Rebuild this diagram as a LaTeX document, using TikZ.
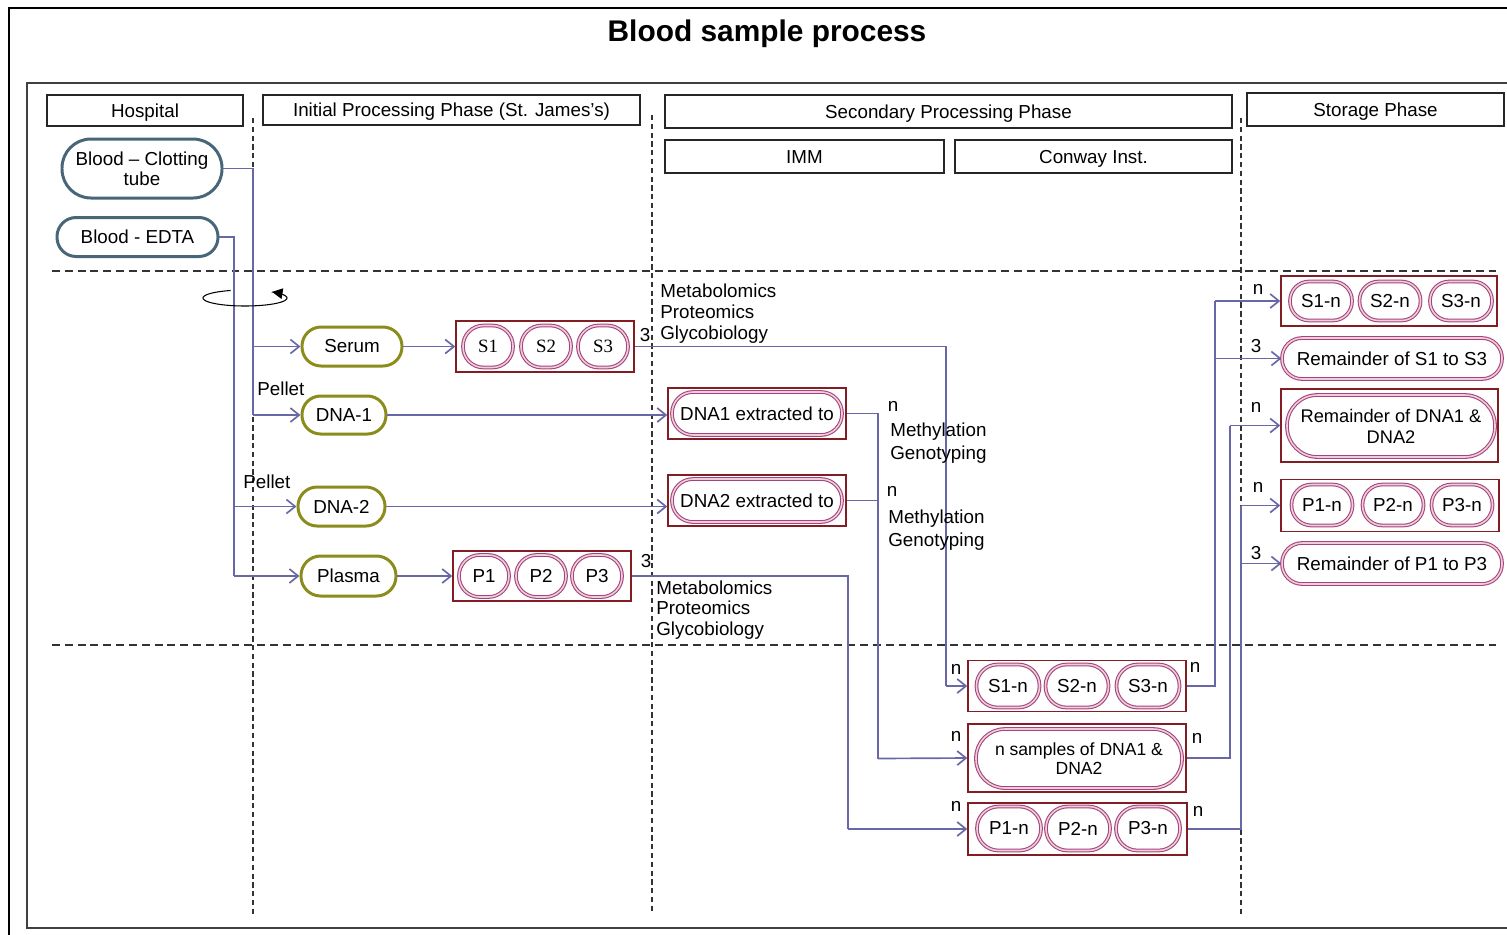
\documentclass[tikz,border=0pt]{standalone}
\usepackage{fontspec}
\setmainfont{Liberation Sans}
\newfontfamily\serifS{Liberation Serif}
\usetikzlibrary{arrows.meta,calc}
\definecolor{connc}{RGB}{104,104,168}
\definecolor{olivec}{RGB}{140,140,28}
\definecolor{bluec}{RGB}{72,102,120}
\definecolor{redbox}{RGB}{130,30,35}
\definecolor{pinkc}{RGB}{165,68,118}
\definecolor{pinkl}{RGB}{238,205,224}
\begin{document}
\begin{tikzpicture}[x=0.02cm,y=-0.02cm, font=\fontsize{10.7}{11.5}\selectfont,
  bw/.style 2 args={rectangle, minimum width=#1*0.02cm, minimum height=#2*0.02cm, inner sep=0pt},
  pw/.style 2 args={rectangle, minimum width=#1*0.02cm, minimum height=#2*0.02cm, rounded corners=#2*0.0098cm, inner sep=0pt, align=center},
  hdr/.style={draw=black!85, line width=0.8pt, text height=7.6pt, text depth=0pt},
  bluepill/.style={draw=bluec, line width=1.7pt},
  olivepill/.style={draw=olivec, line width=1.7pt},
  tpill/.style={draw=pinkc, line width=0.6pt, double=pinkl, double distance=0.9pt},
  rbox/.style={draw=redbox, line width=0.8pt},
  conn/.style={draw=connc, line width=0.95pt, -{Straight Barb[length=5pt,width=8pt]}},
  cline/.style={draw=connc, line width=0.95pt},
  lbl/.style={inner sep=0pt, anchor=west},
  nl/.style={inner sep=0pt},
  hdash/.style={draw=black!80, line width=0.7pt, dash pattern=on 4.5pt off 2.8pt},
  vdash/.style={draw=black!80, line width=0.7pt, dash pattern=on 3pt off 2pt},
]
\useasboundingbox (0,0) rectangle (1507,934);
\fill[white] (0,0) rectangle (1507,934);
% frames
\draw[line width=1.4pt] (9,8) rectangle (1530,960);
\draw[line width=1.1pt, black!75] (27,83) rectangle (1525,928);
\node[font=\fontsize{17}{20}\selectfont\bfseries] (title) at (767,34) {Blood sample process};

% header boxes
\node[hdr, bw={196}{31}] (hosp) at (145,110.5) {Hospital};
\node[hdr, bw={377}{30}] (init) at (451.5,110) {Initial Processing Phase (St. James's)};
\node[hdr, bw={567}{33}] (sec) at (948.5,111.5) {Secondary Processing Phase};
\node[hdr, bw={279}{33}] (imm) at (804.5,156.5) {IMM};
\node[hdr, bw={277}{33}] (conw) at (1093.5,156.5) {Conway Inst.};
\node[hdr, bw={257}{33}] (stor) at (1375.5,109.5) {Storage Phase};

% dashed separators
\draw[hdash] (52,271) -- (1497,271);
\draw[hdash] (52,645) -- (1497,645);
\draw[vdash] (253,118) -- (253,915);
\draw[vdash] (652,115) -- (652,912);
\draw[vdash] (1241,118) -- (1241,915);

% hospital tubes
\node[bluepill, pw={160}{59}, font=\fontsize{10.7}{11.3}\selectfont] (clot) at (142,168.5) {Blood – Clotting\\tube};
\node[bluepill, pw={161}{39}] (edta) at (137.5,237) {Blood - EDTA};

% initial processing
\node[olivepill, pw={100}{39}] (serum) at (352,346.5) {Serum};
\node[olivepill, pw={84}{38}] (dna1) at (344,415) {DNA-1};
\node[olivepill, pw={87}{39}] (dna2) at (341.5,506.5) {DNA-2};
\node[olivepill, pw={95}{40}] (plasma) at (348.5,576) {Plasma};

\node[rbox, bw={178}{51}] (sbox) at (545,346.5) {};
\node[tpill, pw={50}{42}, font=\serifS\fontsize{10.7}{11.5}\selectfont] (s1) at (488,346.5) {S1};
\node[tpill, pw={50}{42}, font=\serifS\fontsize{10.7}{11.5}\selectfont] (s2) at (546,346.5) {S2};
\node[tpill, pw={50}{42}, font=\serifS\fontsize{10.7}{11.5}\selectfont] (s3) at (603,346.5) {S3};

\node[rbox, bw={178}{50}] (pbox) at (542,576) {};
\node[tpill, pw={50}{42}] (p1) at (484,576) {P1};
\node[tpill, pw={50}{42}] (p2) at (541,576) {P2};
\node[tpill, pw={50}{42}] (p3) at (597,576) {P3};

% secondary: IMM
\node[rbox, bw={178}{51}] (d1box) at (757,413.5) {};
\node[tpill, pw={170}{43}] (d1) at (757,413.5) {DNA1 extracted to};
\node[rbox, bw={178}{51}] (d2box) at (757,500.5) {};
\node[tpill, pw={170}{43}] (d2) at (757,500.5) {DNA2 extracted to};

% secondary: Conway
\node[rbox, bw={218}{51}] (snb) at (1077,686) {};
\node[tpill, pw={63}{43}] (sn1) at (1008,686) {S1-n};
\node[tpill, pw={63}{43}] (sn2) at (1077,686) {S2-n};
\node[tpill, pw={63}{43}] (sn3) at (1148,686) {S3-n};

\node[rbox, bw={218}{68}] (nsbox) at (1077,758) {};
\node[tpill, pw={206}{59}, font=\fontsize{10}{10.5}\selectfont] (ns) at (1079,758.5) {n samples of DNA1 \&\\DNA2};

\node[rbox, bw={219}{52}] (pnb) at (1077.5,829) {};
\node[tpill, pw={64}{44}] (pn1) at (1009,828.5) {P1-n};
\node[tpill, pw={64}{44}] (pn2) at (1078,828.5) {P2-n};
\node[tpill, pw={64}{44}] (pn3) at (1148,828.5) {P3-n};

% storage
\node[rbox, bw={216}{50}] (sst) at (1389,301) {};
\node[tpill, pw={62}{39}] (ss1) at (1321,301) {S1-n};
\node[tpill, pw={61}{39}] (ss2) at (1390,301) {S2-n};
\node[tpill, pw={62}{39}] (ss3) at (1461,301) {S3-n};
\node[tpill, pw={220}{41}] (remS) at (1392,358.5) {Remainder of S1 to S3};
\node[rbox, bw={217}{73}] (remDbox) at (1389.5,425.5) {};
\node[tpill, pw={208}{62}, font=\fontsize{10.4}{12}\selectfont] (remD) at (1391,426) {Remainder of DNA1 \&\\DNA2};
\node[rbox, bw={218}{52}] (pst) at (1390,505.5) {};
\node[tpill, pw={61}{41}] (ps1) at (1322,505) {P1-n};
\node[tpill, pw={61}{41}] (ps2) at (1393,505) {P2-n};
\node[tpill, pw={61}{41}] (ps3) at (1462,505) {P3-n};
\node[tpill, pw={220}{41}] (remP) at (1392,563.5) {Remainder of P1 to P3};

% junction columns
\coordinate (cA) at (253,415);
\coordinate (cB) at (234,576);
\coordinate (cP) at (848,0);
\coordinate (cD) at (878,0);
\coordinate (cS) at (946,0);
\coordinate (cR1) at (1215,0);
\coordinate (cR2) at (1230,0);
\coordinate (cR3) at (1241,0);

% connectors: hospital -> initial
\draw[cline] (clot.east) -| (cA);
\draw[conn] (cA |- serum.west) -- (serum.west);
\draw[conn] (cA) -- (dna1.west);
\draw[cline] (edta.east) -| (cB);
\draw[conn] (cB |- dna2.west) -- (dna2.west);
\draw[conn] (cB) -- (plasma.west);

% initial -> boxes
\draw[conn] (serum.east) -- (sbox.west);
\draw[conn] (plasma.east) -- (pbox.west);
\draw[conn] (dna1.east) -- (dna1.east -| d1box.west);
\draw[conn] (dna2.east) -- (dna2.east -| d2box.west);

% to Conway
\draw[cline] (sbox.east) -| (cS |- snb.west);
\draw[conn] (cS |- snb.west) -- (snb.west);
\draw[cline] (d1box.east) -| (cD |- ns.west);
\draw[cline] (d2box.east) -- (d2box.east -| cD);
\draw[conn] (cD |- ns.west) -- (nsbox.west);
\draw[cline] (pbox.east) -| (cP |- pnb.west);
\draw[conn] (cP |- pnb.west) -- (pnb.west);

% to storage
\draw[cline] (snb.east) -| (cR1 |- sst.west);
\draw[conn] (cR1 |- sst.west) -- (sst.west);
\draw[conn] (cR1 |- remS.west) -- (remS.west);
\draw[cline] (nsbox.east) -| (cR2 |- remDbox.west);
\draw[conn] (cR2 |- remDbox.west) -- (remDbox.west);
\draw[cline] (pnb.east) -| (cR3 |- pst.west);
\draw[conn] (cR3 |- pst.west) -- (pst.west);
\draw[conn] (cR3 |- remP.west) -- (remP.west);

% centrifuge symbol
\draw[line width=0.6pt, -{Triangle[length=6pt,width=6pt]}] plot[domain=110:410, samples=80, smooth] ({245+42*cos(\x)},{298-8*sin(\x)});

% labels
\node[lbl] (pel1) at (257,389) {Pellet};
\node[lbl] (pel2) at (243,482) {Pellet};
\node[nl] (t3a) at (645,335) {3};
\node[nl] (t3b) at (646,561) {3};
\node[lbl] (m1) at (660,291) {Metabolomics};
\node[lbl] (m2) at (660,312) {Proteomics};
\node[lbl] (m3) at (660,335) {Glycobiology};
\node[lbl] (m4) at (656,588) {Metabolomics};
\node[lbl] (m5) at (656,608) {Proteomics};
\node[lbl] (m6) at (656,631) {Glycobiology};
\node[nl] (n1) at (893,406) {n};
\node[lbl] (me1) at (890,432) {Methylation};
\node[lbl] (ge1) at (890,455) {Genotyping};
\node[nl] (n2) at (892,491) {n};
\node[lbl] (me2) at (888,519) {Methylation};
\node[lbl] (ge2) at (888,542) {Genotyping};
\node[nl] (n3) at (956,669) {n};
\node[nl] (n4) at (956,736) {n};
\node[nl] (n5) at (956,806) {n};
\node[nl] (n6) at (1195,667) {n};
\node[nl] (n7) at (1197,738) {n};
\node[nl] (n8) at (1198,811) {n};
\node[nl] (n9) at (1258,289) {n};
\node[nl] (t3c) at (1256,346) {3};
\node[nl] (n10) at (1256,407) {n};
\node[nl] (n11) at (1258,487) {n};
\node[nl] (t3d) at (1256,553) {3};
\end{tikzpicture}
\end{document}
